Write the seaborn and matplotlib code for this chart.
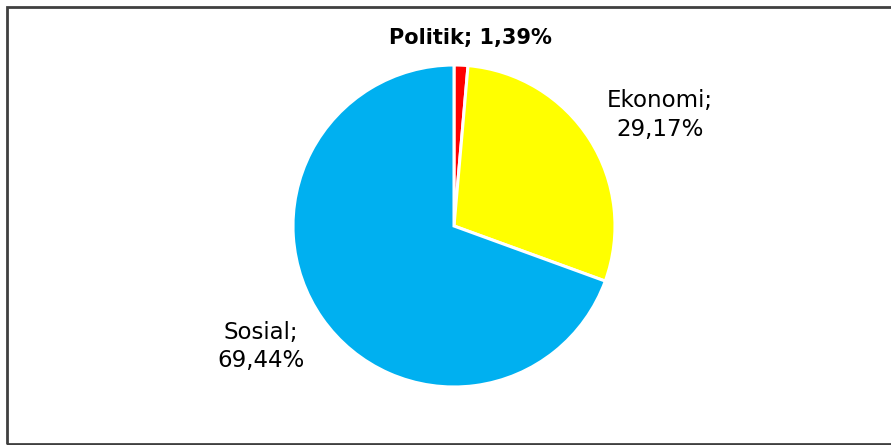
import matplotlib
matplotlib.use("Agg")
import matplotlib.pyplot as plt
from matplotlib.patches import Rectangle
import seaborn as sns

sns.set_theme(style="white")
plt.rcParams['font.family'] = ['DejaVu Sans']

# Data
categories = ["Politik", "Ekonomi", "Sosial"]
values = [1.39, 29.17, 69.44]
labels = ["Politik; 1,39%", "Ekonomi;\n29,17%", "Sosial;\n69,44%"]
colors = ["#FF0000", "#FFFF00", "#00B0F0"]

W, H = 891, 445
fig = plt.figure(figsize=(W / 100, H / 100), dpi=100)
fig.patch.set_facecolor("white")

# outer frame (left, top, bottom visible)
fig.patches.append(Rectangle((6.5 / W, 1.5 / H), 1.2, (H - 8) / H,
                             transform=fig.transFigure, fill=False,
                             edgecolor="#404040", linewidth=2, zorder=10))

cx, cy, r = 454, 226, 161
ax = fig.add_axes([(cx - r) / W, (H - cy - r) / H, 2 * r / W, 2 * r / H])
ax.pie(values, colors=colors, startangle=90, counterclock=False, radius=1,
       wedgeprops=dict(edgecolor="white", linewidth=2.2))
ax.set_xlim(-1, 1)
ax.set_ylim(-1, 1)
ax.set_aspect("equal")
ax.axis("off")

label_pos = [(0.105, 1.165), (1.28, 0.69), (-1.2, -0.75)]
weights = ["semibold", "normal", "normal"]
sizes = [15, 16.5, 16.5]
for lab, (x, y), w, s in zip(labels, label_pos, weights, sizes):
    ax.text(x, y, lab, ha="center", va="center", fontsize=s,
            fontweight=w, color="black", linespacing=1.3, clip_on=False)

fig.savefig("out.png", dpi=100)
